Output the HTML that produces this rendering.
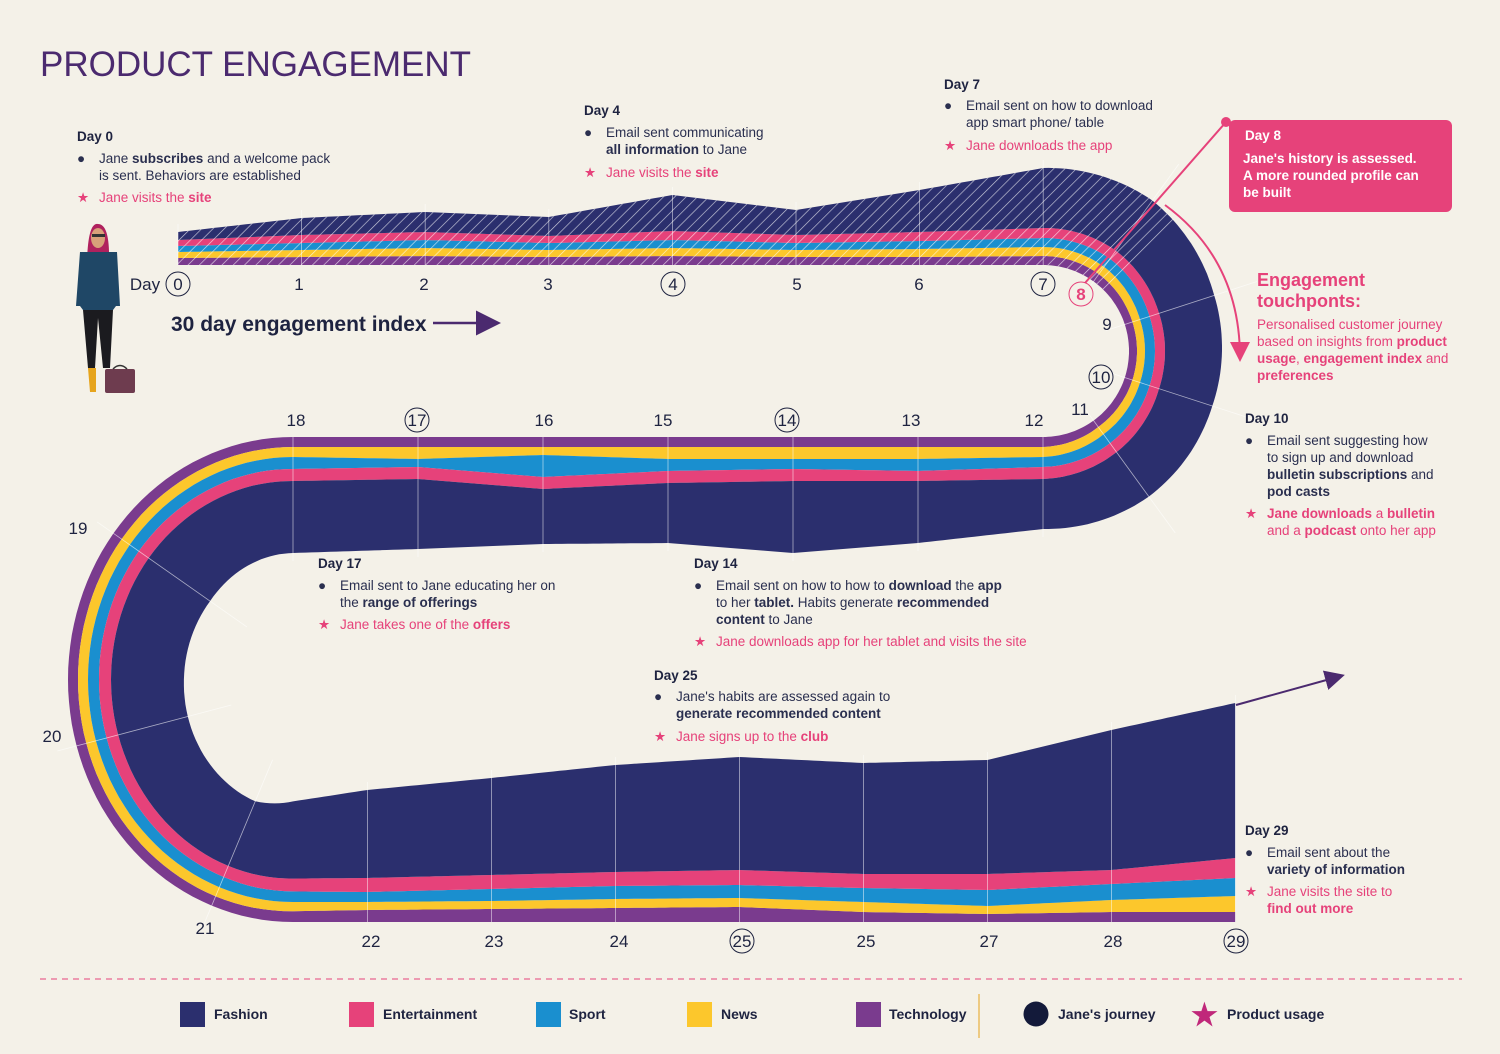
<!DOCTYPE html>
<html><head><meta charset="utf-8"><style>
body{margin:0;background:#f4f1e8;}
svg{display:block;font-family:"Liberation Sans",sans-serif;}
.t{font-size:13.5px;fill:#2a2f4f}
.p{font-size:13.5px;fill:#e6427a}
.b{font-weight:bold}
.h{font-size:13.5px;font-weight:bold;fill:#1e2340}
.lab{font-size:17px;fill:#1e2340}
</style></head><body>
<svg id="chart" width="1500" height="1054" viewBox="0 0 1500 1054">
<defs>
<pattern id="hatch" width="8" height="8" patternUnits="userSpaceOnUse" patternTransform="rotate(45)">
<line x1="0" y1="0" x2="0" y2="8" stroke="#ffffff" stroke-width="1.3" opacity="0.75"/>
</pattern>
<marker id="ah" markerWidth="10" markerHeight="10" refX="8" refY="5" orient="auto"><path d="M0,0 L10,5 L0,10 z" fill="#4b2a6f"/></marker>
<marker id="ahp" markerWidth="10" markerHeight="10" refX="8" refY="5" orient="auto"><path d="M0,0 L10,5 L0,10 z" fill="#e6427a"/></marker>
</defs>
<rect width="1500" height="1054" fill="#f4f1e8"/>
<text x="40" y="76" font-size="35" fill="#4b2a6f">PRODUCT ENGAGEMENT</text>
<g id="stream"></g>
<g id="grid"></g>

<g class="lab" text-anchor="middle">
<text x="145" y="290">Day</text>
<circle cx="178" cy="284" r="12" fill="none" stroke="#1e2340"/><text x="178" y="290">0</text>
<text x="299" y="290">1</text><text x="424" y="290">2</text><text x="548" y="290">3</text>
<circle cx="673" cy="284" r="12" fill="none" stroke="#1e2340"/><text x="673" y="290">4</text>
<text x="797" y="290">5</text><text x="919" y="290">6</text>
<circle cx="1043" cy="284" r="12" fill="none" stroke="#1e2340"/><text x="1043" y="290">7</text>
<circle cx="1081" cy="294" r="12" fill="#f4f1e8" stroke="#e6427a"/><text x="1081" y="300" fill="#e6427a" font-weight="bold">8</text>
<text x="1107" y="330">9</text>
<circle cx="1101" cy="377" r="12" fill="#f4f1e8" stroke="#1e2340"/><text x="1101" y="383">10</text>
<text x="1080" y="415">11</text>
<text x="1034" y="426">12</text><text x="911" y="426">13</text>
<circle cx="787" cy="420" r="12" fill="none" stroke="#1e2340"/><text x="787" y="426">14</text>
<text x="663" y="426">15</text><text x="544" y="426">16</text>
<circle cx="417" cy="420" r="12" fill="none" stroke="#1e2340"/><text x="417" y="426">17</text>
<text x="296" y="426">18</text>
<text x="78" y="534">19</text><text x="52" y="742">20</text><text x="205" y="934">21</text>
<text x="371" y="947">22</text><text x="494" y="947">23</text><text x="619" y="947">24</text>
<circle cx="742" cy="941" r="12" fill="none" stroke="#1e2340"/><text x="742" y="947">25</text>
<text x="866" y="947">25</text><text x="989" y="947">27</text><text x="1113" y="947">28</text>
<circle cx="1236" cy="941" r="12" fill="none" stroke="#1e2340"/><text x="1236" y="947">29</text>
</g>

<text x="171" y="331" font-size="21" font-weight="bold" fill="#1e2340">30 day engagement index</text>
<line x1="433" y1="323" x2="496" y2="323" stroke="#4b2a6f" stroke-width="2.5" marker-end="url(#ah)"/>
<line x1="1236" y1="705" x2="1341" y2="676" stroke="#4b2a6f" stroke-width="2" marker-end="url(#ah)"/>

<g>
<path d="M87,262 Q88,222 98,224 Q110,224 109,262 Z" fill="#b0215e"/>
<ellipse cx="98" cy="238" rx="7" ry="10" fill="#d8a07a"/>
<rect x="92" y="234" width="13" height="3" fill="#333"/>
<path d="M80,252 L117,252 L120,306 L116,306 L113,310 L83,310 L80,306 L76,306 Z" fill="#1f4766"/>
<rect x="83" y="306" width="30" height="4" fill="#1f4766"/>
<path d="M83,310 L113,310 L110,368 L103,368 L98,318 L95,368 L88,368 Z" fill="#1b1b1f"/>
<path d="M88,368 L96,368 L96,392 L90,392 Z" fill="#e6a41c"/>
<rect x="105" y="369" width="30" height="24" rx="2" fill="#6e3c4f"/>
<path d="M113,369 Q120,362 127,369" fill="none" stroke="#333" stroke-width="1.5"/>
</g>

<g>
<text x="77" y="141" class="h">Day 0</text>
<text x="77" y="163" class="t">●</text><text x="99" y="163" class="t">Jane <tspan class="b">subscribes</tspan> and a welcome pack</text>
<text x="99" y="180" class="t">is sent. Behaviors are established</text>
<text x="77" y="202" class="p">★</text><text x="99" y="202" class="p">Jane visits the <tspan class="b">site</tspan></text>
</g>
<g>
<text x="584" y="115" class="h">Day 4</text>
<text x="584" y="137" class="t">●</text><text x="606" y="137" class="t">Email sent communicating</text>
<text x="606" y="154" class="t"><tspan class="b">all information</tspan> to Jane</text>
<text x="584" y="177" class="p">★</text><text x="606" y="177" class="p">Jane visits the <tspan class="b">site</tspan></text>
</g>
<g>
<text x="944" y="89" class="h">Day 7</text>
<text x="944" y="110" class="t">●</text><text x="966" y="110" class="t">Email sent on how to download</text>
<text x="966" y="127" class="t">app  smart phone/ table</text>
<text x="944" y="150" class="p">★</text><text x="966" y="150" class="p">Jane downloads the app</text>
</g>
<g>
<line x1="1226" y1="122" x2="1085" y2="283" stroke="#e6427a" stroke-width="2"/>
<circle cx="1226" cy="122" r="5" fill="#e6427a"/>
<rect x="1229" y="120" width="223" height="92" rx="6" fill="#e6427a"/>
<text x="1245" y="140" font-size="13.5" font-weight="bold" fill="#fff">Day 8</text>
<text x="1243" y="163" font-size="13.5" font-weight="bold" fill="#fff">Jane's history is assessed.</text>
<text x="1243" y="180" font-size="13.5" font-weight="bold" fill="#fff">A more rounded profile can</text>
<text x="1243" y="197" font-size="13.5" font-weight="bold" fill="#fff">be built</text>
<path d="M1165,205 Q1240,260 1240,358" fill="none" stroke="#e6427a" stroke-width="2" marker-end="url(#ahp)"/>
</g>
<g>
<text x="1257" y="286" font-size="18" font-weight="bold" fill="#e6427a">Engagement</text>
<text x="1257" y="307" font-size="18" font-weight="bold" fill="#e6427a">touchponts:</text>
<text x="1257" y="329" class="p">Personalised customer journey</text>
<text x="1257" y="346" class="p">based on insights from <tspan class="b">product</tspan></text>
<text x="1257" y="363" class="p"><tspan class="b">usage</tspan>, <tspan class="b">engagement index</tspan> and</text>
<text x="1257" y="380" class="p b">preferences</text>
</g>
<g>
<text x="1245" y="423" class="h">Day 10</text>
<text x="1245" y="445" class="t">●</text><text x="1267" y="445" class="t">Email sent suggesting how</text>
<text x="1267" y="462" class="t">to sign up and download</text>
<text x="1267" y="479" class="t"><tspan class="b">bulletin subscriptions</tspan> and</text>
<text x="1267" y="496" class="t b">pod casts</text>
<text x="1245" y="518" class="p">★</text><text x="1267" y="518" class="p"><tspan class="b">Jane downloads</tspan> a <tspan class="b">bulletin</tspan></text>
<text x="1267" y="535" class="p">and a <tspan class="b">podcast</tspan> onto her app</text>
</g>
<g>
<text x="318" y="568" class="h">Day 17</text>
<text x="318" y="590" class="t">●</text><text x="340" y="590" class="t">Email sent to Jane educating her on</text>
<text x="340" y="607" class="t">the <tspan class="b">range of offerings</tspan></text>
<text x="318" y="629" class="p">★</text><text x="340" y="629" class="p">Jane takes one of the <tspan class="b">offers</tspan></text>
</g>
<g>
<text x="694" y="568" class="h">Day 14</text>
<text x="694" y="590" class="t">●</text><text x="716" y="590" class="t">Email sent on how to how to <tspan class="b">download</tspan> the <tspan class="b">app</tspan></text>
<text x="716" y="607" class="t">to her <tspan class="b">tablet.</tspan> Habits generate <tspan class="b">recommended</tspan></text>
<text x="716" y="624" class="t"><tspan class="b">content</tspan> to Jane</text>
<text x="694" y="646" class="p">★</text><text x="716" y="646" class="p">Jane downloads app for her tablet and visits the site</text>
</g>
<g>
<text x="654" y="680" class="h">Day 25</text>
<text x="654" y="701" class="t">●</text><text x="676" y="701" class="t">Jane's habits are assessed again to</text>
<text x="676" y="718" class="t b">generate recommended content</text>
<text x="654" y="741" class="p">★</text><text x="676" y="741" class="p">Jane signs up to the <tspan class="b">club</tspan></text>
</g>
<g>
<text x="1245" y="835" class="h">Day 29</text>
<text x="1245" y="857" class="t">●</text><text x="1267" y="857" class="t">Email sent about the</text>
<text x="1267" y="874" class="t b">variety of information</text>
<text x="1245" y="896" class="p">★</text><text x="1267" y="896" class="p">Jane visits the site to</text>
<text x="1267" y="913" class="p b">find out more</text>
</g>

<line x1="40" y1="979" x2="1462" y2="979" stroke="#e6427a" stroke-dasharray="6,5"/>
<g font-size="14" font-weight="bold" fill="#1e2340">
<g><rect x="180" y="1002" width="25" height="25" fill="#2b2f6e"/><text x="214" y="1019">Fashion</text></g>
<g><rect x="349" y="1002" width="25" height="25" fill="#e6427a"/><text x="383" y="1019">Entertainment</text></g>
<g><rect x="536" y="1002" width="25" height="25" fill="#1a8fcf"/><text x="569" y="1019">Sport</text></g>
<g><rect x="687" y="1002" width="25" height="25" fill="#fcc72c"/><text x="721" y="1019">News</text></g>
<g><rect x="856" y="1002" width="25" height="25" fill="#7a3b8e"/><text x="889" y="1019">Technology</text></g>
<line x1="979" y1="994" x2="979" y2="1038" stroke="#e6a41c"/>
<g><circle cx="1036" cy="1014" r="12.5" fill="#131a3a"/><text x="1058" y="1019">Jane's journey</text></g>
<g><text x="1191" y="1025" font-size="30" fill="#c0287a">★</text><text x="1227" y="1019">Product usage</text></g>
</g>
</svg>
<script>
const days = [0,1,2,3,4,5,6,7,8,9,10,11,12,13,14,15,16,17,18,19,20,21,22,23,24,25,26,27,28,29];
const technology = [7,8,9,8,9,8,8,9,9,8,8,8,10,10,10,10,10,10,10,10,10,10,12,13,14,15,10,8,10,10];
const news       = [6,7,8,7,8,7,8,9,9,8,8,9,10,12,12,12,8,12,10,10,10,10,8,8,9,9,10,8,12,16];
const sport      = [6,7,8,7,8,7,8,9,10,10,10,11,10,12,10,12,22,8,12,11,11,11,10,12,13,13,14,16,16,18];
const entertainment = [6,8,8,7,9,8,9,10,10,10,10,11,12,10,12,12,12,12,12,12,12,12,14,14,14,15,14,16,14,20];
const fashion    = [8,17,20,19,36,25,42,60,62,58,56,55,50,62,72,60,55,70,72,75,72,70,88,97,107,113,111,114,140,155];
const series = [technology, news, sport, entertainment, fashion];
const colors = ["#7a3b8e","#fcc72c","#1a8fcf","#e6427a","#2b2f6e"];
const names = ["technology","news","sport","entertainment","fashion"];

function pos(d){
  const rad=Math.PI/180;
  if(d<=7) return {x:178+d*123.6,y:265,nx:0,ny:-1};
  if(d<=12){const a=(-90+(d-7)/5*180)*rad;const c=Math.cos(a),s=Math.sin(a);return {x:1043+86*c,y:351+86*s,nx:c,ny:s};}
  if(d<=18) return {x:1043-(d-12)*125,y:437,nx:0,ny:1};
  if(d<=21.4){const a=(-90-(d-18)/3.4*180)*rad;const c=Math.cos(a),s=Math.sin(a);
    const nx=-c/225, ny=-s/242.5; const L=Math.hypot(nx,ny);
    return {x:293+225*c,y:679.5+242.5*s,nx:nx/L,ny:ny/L};}
  return {x:293+(d-21.4)*124,y:922,nx:0,ny:-1};
}
function val(arr,d){const i=Math.min(Math.floor(d),days.length-2);const f=d-i;return arr[i]*(1-f)+arr[i+1]*f;}
function cum(k,d){let s=0;for(let j=0;j<k;j++)s+=val(series[j],d);return s;}
function band(lo,hi,a,b){
  const up=[],dn=[];
  for(let d=a;d<=b+1e-9;d+=0.05){const dd=Math.min(d,b);const p=pos(dd);
    const l=lo(dd),h=hi(dd);
    up.push((p.x+p.nx*h).toFixed(1)+","+(p.y+p.ny*h).toFixed(1));
    dn.push((p.x+p.nx*l).toFixed(1)+","+(p.y+p.ny*l).toFixed(1));}
  return "M"+up.join("L")+"L"+dn.reverse().join("L")+"Z";
}
const NS="http://www.w3.org/2000/svg";
const g=document.getElementById("stream");
const last=days[days.length-1];
series.forEach((arr,k)=>{
  const p=document.createElementNS(NS,"path");
  p.setAttribute("d",band(d=>cum(k,d),d=>cum(k+1,d),0,last));
  p.setAttribute("fill",colors[k]);
  
  
  g.appendChild(p);
});
const h=document.createElementNS(NS,"path");
h.setAttribute("d",band(d=>0,d=>cum(5,d),0,8.3));
h.setAttribute("fill","url(#hatch)");


g.appendChild(h);
const gr=document.getElementById("grid");
days.forEach(d=>{
  const p=pos(d);const t=cum(5,d);
  const arc=(d>7&&d<12)||(d>18&&d<21.4);
  const ext=arc?45:8;
  const ln=document.createElementNS(NS,"line");
  ln.setAttribute("x1",(p.x-p.nx*(arc?20:0)).toFixed(1));ln.setAttribute("y1",(p.y-p.ny*(arc?20:0)).toFixed(1));
  ln.setAttribute("x2",(p.x+p.nx*(t+ext)).toFixed(1));ln.setAttribute("y2",(p.y+p.ny*(t+ext)).toFixed(1));
  ln.setAttribute("stroke","#ffffff");ln.setAttribute("stroke-width","0.8");ln.setAttribute("opacity","0.6");
  
  
  gr.appendChild(ln);
});
</script>
</body></html>
